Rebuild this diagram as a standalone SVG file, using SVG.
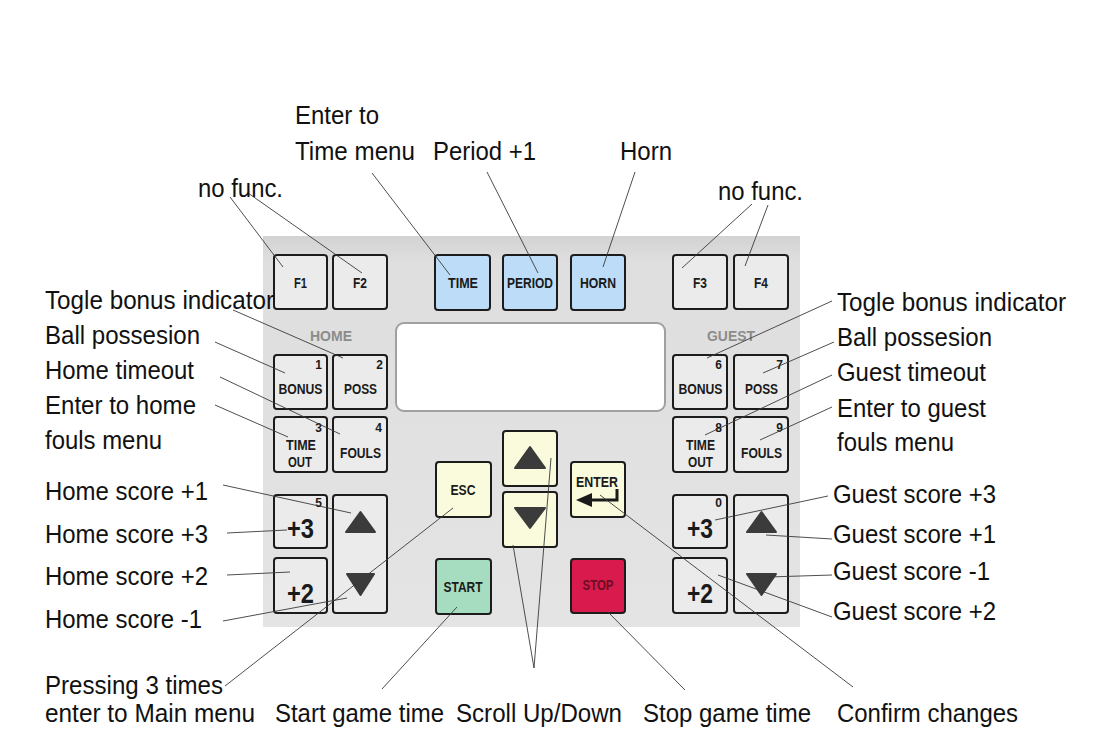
<svg xmlns="http://www.w3.org/2000/svg" width="1112" height="740" viewBox="0 0 1112 740">
<style>
.k{fill:#ebebeb;stroke:#1c1c1c;stroke-width:2}
.kb{fill:#bcdcf7}
.ky{fill:#fafadc}
.kg{fill:#a6dcc0}
.kr{fill:#d81a4c}
.kl{font-family:"Liberation Sans",Arial,sans-serif;font-weight:bold;font-size:14px;fill:#1a1a1a;text-anchor:middle}
.big{font-size:28px}
.num{font-family:"Liberation Sans",Arial,sans-serif;font-weight:bold;font-size:12px;fill:#1a1a1a;text-anchor:end}
.side{font-family:"Liberation Sans",Arial,sans-serif;font-weight:bold;font-size:15px;fill:#8c8c8c;text-anchor:middle}
.lab{font-family:"Liberation Sans",Arial,sans-serif;font-size:26px;fill:#111}
.c line{stroke:#3a3a3a;stroke-width:0.9;fill:none}
.tri{fill:#3b3b3b;stroke:#3b3b3b;stroke-width:2;stroke-linejoin:round}
</style>
<defs>
<linearGradient id="pg" x1="0" y1="0" x2="0" y2="1">
<stop offset="0" stop-color="#d2d2d2"/>
<stop offset="0.06" stop-color="#dedede"/>
<stop offset="1" stop-color="#e4e4e4"/>
</linearGradient>
</defs>
<rect width="1112" height="740" fill="#ffffff"/>
<g id="panel">
<rect x="263" y="236" width="537" height="391" fill="url(#pg)"/>
<rect x="396" y="323" width="269" height="88" rx="8" fill="#ffffff" stroke="#a0a0a0" stroke-width="2"/>
</g>
<g id="keys">
<g id="key-f1"><rect class="k" x="274" y="255" width="53" height="54" rx="3"/><text class="kl" x="300.5" y="288" textLength="13" lengthAdjust="spacingAndGlyphs">F1</text></g>
<g id="key-f2"><rect class="k" x="333" y="255" width="54" height="54" rx="3"/><text class="kl" x="360" y="288" textLength="14" lengthAdjust="spacingAndGlyphs">F2</text></g>
<g id="key-time"><rect class="k kb" x="435" y="255" width="55" height="55" rx="3"/><text class="kl" x="463" y="288" textLength="30" lengthAdjust="spacingAndGlyphs">TIME</text></g>
<g id="key-period"><rect class="k kb" x="503" y="255" width="54" height="55" rx="3"/><text class="kl" x="530" y="288" textLength="46" lengthAdjust="spacingAndGlyphs">PERIOD</text></g>
<g id="key-horn"><rect class="k kb" x="571" y="255" width="54" height="55" rx="3"/><text class="kl" x="598" y="288" textLength="36" lengthAdjust="spacingAndGlyphs">HORN</text></g>
<g id="key-f3"><rect class="k" x="673" y="255" width="54" height="54" rx="3"/><text class="kl" x="700" y="288" textLength="14" lengthAdjust="spacingAndGlyphs">F3</text></g>
<g id="key-f4"><rect class="k" x="734" y="255" width="54" height="54" rx="3"/><text class="kl" x="761" y="288" textLength="14" lengthAdjust="spacingAndGlyphs">F4</text></g>
<g id="label-home"><text class="side" x="331" y="341" textLength="42" lengthAdjust="spacingAndGlyphs">HOME</text></g>
<g id="label-guest"><text class="side" x="731" y="341" textLength="48" lengthAdjust="spacingAndGlyphs">GUEST</text></g>
<g id="key-bonus-h"><rect class="k" x="274" y="355" width="53" height="54" rx="3"/><text class="num" x="322" y="369">1</text><text class="kl" x="300.5" y="394" textLength="44" lengthAdjust="spacingAndGlyphs">BONUS</text></g>
<g id="key-poss-h"><rect class="k" x="333" y="355" width="54" height="54" rx="3"/><text class="num" x="383" y="369">2</text><text class="kl" x="360.5" y="394" textLength="33" lengthAdjust="spacingAndGlyphs">POSS</text></g>
<g id="key-bonus-g"><rect class="k" x="673" y="355" width="54" height="54" rx="3"/><text class="num" x="722" y="369">6</text><text class="kl" x="700.5" y="394" textLength="44" lengthAdjust="spacingAndGlyphs">BONUS</text></g>
<g id="key-poss-g"><rect class="k" x="734" y="355" width="54" height="54" rx="3"/><text class="num" x="783" y="369">7</text><text class="kl" x="761.5" y="394" textLength="33" lengthAdjust="spacingAndGlyphs">POSS</text></g>
<g id="key-timeout-h"><rect class="k" x="274" y="417" width="53" height="55" rx="3"/><text class="num" x="322" y="432">3</text><text class="kl" x="301" y="450" textLength="30" lengthAdjust="spacingAndGlyphs">TIME</text><text class="kl" x="300" y="467" textLength="24" lengthAdjust="spacingAndGlyphs">OUT</text></g>
<g id="key-fouls-h"><rect class="k" x="333" y="417" width="54" height="55" rx="3"/><text class="num" x="382" y="432">4</text><text class="kl" x="360.5" y="458" textLength="41" lengthAdjust="spacingAndGlyphs">FOULS</text></g>
<g id="key-timeout-g"><rect class="k" x="673" y="417" width="54" height="55" rx="3"/><text class="num" x="722" y="432">8</text><text class="kl" x="700.5" y="450" textLength="29" lengthAdjust="spacingAndGlyphs">TIME</text><text class="kl" x="700.5" y="467" textLength="25" lengthAdjust="spacingAndGlyphs">OUT</text></g>
<g id="key-fouls-g"><rect class="k" x="734" y="417" width="54" height="55" rx="3"/><text class="num" x="783" y="432">9</text><text class="kl" x="761.5" y="458" textLength="41" lengthAdjust="spacingAndGlyphs">FOULS</text></g>
<g id="key-plus3-h"><rect class="k" x="274" y="495" width="53" height="53" rx="3"/><text class="num" x="322" y="507">5</text><text class="kl big" x="300.5" y="538" textLength="27" lengthAdjust="spacingAndGlyphs">+3</text></g>
<g id="key-plus2-h"><rect class="k" x="274" y="558" width="53" height="55" rx="3"/><text class="kl big" x="300.5" y="603" textLength="27" lengthAdjust="spacingAndGlyphs">+2</text></g>
<g id="key-updown-h"><rect class="k" x="333" y="495" width="54" height="118" rx="3"/><polygon class="tri" points="346,532 375,532 360.5,512"/><polygon class="tri" points="347,574 374,574 360.5,595"/></g>
<g id="key-plus3-g"><rect class="k" x="673" y="495" width="54" height="53" rx="3"/><text class="num" x="722" y="507">0</text><text class="kl big" x="700" y="538" textLength="26" lengthAdjust="spacingAndGlyphs">+3</text></g>
<g id="key-plus2-g"><rect class="k" x="673" y="558" width="54" height="55" rx="3"/><text class="kl big" x="700" y="603" textLength="26" lengthAdjust="spacingAndGlyphs">+2</text></g>
<g id="key-updown-g"><rect class="k" x="734" y="495" width="54" height="118" rx="3"/><polygon class="tri" points="747,532 776,532 761.5,512"/><polygon class="tri" points="747,574 776,574 761.5,595"/></g>
<g id="key-esc"><rect class="k ky" x="436" y="462" width="55" height="55" rx="3"/><text class="kl" x="463" y="495" textLength="25" lengthAdjust="spacingAndGlyphs">ESC</text></g>
<g id="key-start"><rect class="k kg" x="436" y="559" width="55" height="55" rx="3"/><text class="kl" x="463" y="592" textLength="39" lengthAdjust="spacingAndGlyphs">START</text></g>
<g id="key-scroll-up"><rect class="k ky" x="503" y="431" width="54" height="55" rx="3"/><polygon class="tri" points="515,468 545,468 530,447"/></g>
<g id="key-scroll-down"><rect class="k ky" x="503" y="492" width="54" height="55" rx="3"/><polygon class="tri" points="515,508 545,508 530,528"/></g>
<g id="key-enter"><rect class="k ky" x="571" y="462" width="54" height="55" rx="3"/><text class="kl" x="597" y="487" textLength="42" lengthAdjust="spacingAndGlyphs">ENTER</text><path d="M617,489 V500 H590" fill="none" stroke="#1a1a1a" stroke-width="3"/><polygon points="576,500 592,493 592,507" fill="#1a1a1a"/></g>
<g id="key-stop"><rect class="k kr" x="571" y="559" width="54" height="54" rx="3"/><text class="kl" x="598" y="590" textLength="31" lengthAdjust="spacingAndGlyphs" style="fill:#6b0d25">STOP</text></g>
</g>
<g id="connectors" class="c">
<line x1="230" y1="197" x2="283" y2="267"/>
<line x1="248" y1="193" x2="362" y2="273"/>
<line x1="372" y1="173" x2="450" y2="275"/>
<line x1="487" y1="172" x2="538" y2="273"/>
<line x1="635" y1="172" x2="603" y2="267"/>
<line x1="752" y1="204" x2="682" y2="268"/>
<line x1="768" y1="205" x2="745" y2="266"/>
<line x1="233" y1="310" x2="343" y2="358"/>
<line x1="215" y1="342" x2="285" y2="373"/>
<line x1="220" y1="377" x2="340" y2="434"/>
<line x1="215" y1="405" x2="288" y2="437"/>
<line x1="223" y1="485" x2="351" y2="513"/>
<line x1="227" y1="533" x2="287" y2="530"/>
<line x1="227" y1="575" x2="290" y2="572"/>
<line x1="223" y1="621" x2="347" y2="598"/>
<line x1="225" y1="686" x2="453" y2="508"/>
<line x1="382" y1="689" x2="457" y2="607"/>
<line x1="534" y1="668" x2="513" y2="545"/>
<line x1="534" y1="668" x2="551" y2="458"/>
<line x1="685" y1="690" x2="608" y2="612"/>
<line x1="853" y1="687" x2="600" y2="495"/>
<line x1="707" y1="358" x2="832" y2="301"/>
<line x1="763" y1="373" x2="834" y2="342"/>
<line x1="705" y1="435" x2="832" y2="375"/>
<line x1="760" y1="440" x2="832" y2="407"/>
<line x1="715" y1="520" x2="828" y2="496"/>
<line x1="766" y1="535" x2="832" y2="539"/>
<line x1="768" y1="577" x2="832" y2="575"/>
<line x1="718" y1="575" x2="832" y2="617"/>
</g>
<g id="labels">
<text class="lab" x="295" y="124" textLength="84" lengthAdjust="spacingAndGlyphs">Enter to</text>
<text class="lab" x="295" y="160" textLength="120" lengthAdjust="spacingAndGlyphs">Time menu</text>
<text class="lab" x="433" y="160" textLength="103" lengthAdjust="spacingAndGlyphs">Period +1</text>
<text class="lab" x="620" y="160" textLength="52" lengthAdjust="spacingAndGlyphs">Horn</text>
<text class="lab" x="198" y="197" textLength="85" lengthAdjust="spacingAndGlyphs">no func.</text>
<text class="lab" x="718" y="200" textLength="85" lengthAdjust="spacingAndGlyphs">no func.</text>
<text class="lab" x="45" y="309" textLength="229" lengthAdjust="spacingAndGlyphs" style="font-size:25px">Togle bonus indicator</text>
<text class="lab" x="45" y="344" textLength="155" lengthAdjust="spacingAndGlyphs">Ball possesion</text>
<text class="lab" x="45" y="379" textLength="149" lengthAdjust="spacingAndGlyphs">Home timeout</text>
<text class="lab" x="45" y="414" textLength="151" lengthAdjust="spacingAndGlyphs">Enter to home</text>
<text class="lab" x="45" y="449" textLength="117" lengthAdjust="spacingAndGlyphs">fouls menu</text>
<text class="lab" x="45" y="500" textLength="163" lengthAdjust="spacingAndGlyphs">Home score +1</text>
<text class="lab" x="45" y="543" textLength="163" lengthAdjust="spacingAndGlyphs">Home score +3</text>
<text class="lab" x="45" y="585" textLength="163" lengthAdjust="spacingAndGlyphs">Home score +2</text>
<text class="lab" x="45" y="628" textLength="157" lengthAdjust="spacingAndGlyphs">Home score -1</text>
<text class="lab" x="45" y="694" textLength="178" lengthAdjust="spacingAndGlyphs">Pressing 3 times</text>
<text class="lab" x="45" y="722" textLength="210" lengthAdjust="spacingAndGlyphs">enter to Main menu</text>
<text class="lab" x="275" y="722" textLength="169" lengthAdjust="spacingAndGlyphs">Start game time</text>
<text class="lab" x="456" y="722" textLength="166" lengthAdjust="spacingAndGlyphs">Scroll Up/Down</text>
<text class="lab" x="643" y="722" textLength="168" lengthAdjust="spacingAndGlyphs">Stop game time</text>
<text class="lab" x="837" y="722" textLength="181" lengthAdjust="spacingAndGlyphs">Confirm changes</text>
<text class="lab" x="837" y="311" textLength="229" lengthAdjust="spacingAndGlyphs">Togle bonus indicator</text>
<text class="lab" x="837" y="346" textLength="155" lengthAdjust="spacingAndGlyphs">Ball possesion</text>
<text class="lab" x="837" y="381" textLength="149" lengthAdjust="spacingAndGlyphs">Guest timeout</text>
<text class="lab" x="837" y="417" textLength="149" lengthAdjust="spacingAndGlyphs">Enter to guest</text>
<text class="lab" x="837" y="451" textLength="117" lengthAdjust="spacingAndGlyphs">fouls menu</text>
<text class="lab" x="833" y="503" textLength="163" lengthAdjust="spacingAndGlyphs">Guest score +3</text>
<text class="lab" x="833" y="543" textLength="163" lengthAdjust="spacingAndGlyphs">Guest score +1</text>
<text class="lab" x="833" y="580" textLength="157" lengthAdjust="spacingAndGlyphs">Guest score -1</text>
<text class="lab" x="833" y="620" textLength="163" lengthAdjust="spacingAndGlyphs">Guest score +2</text>
</g>
</svg>
